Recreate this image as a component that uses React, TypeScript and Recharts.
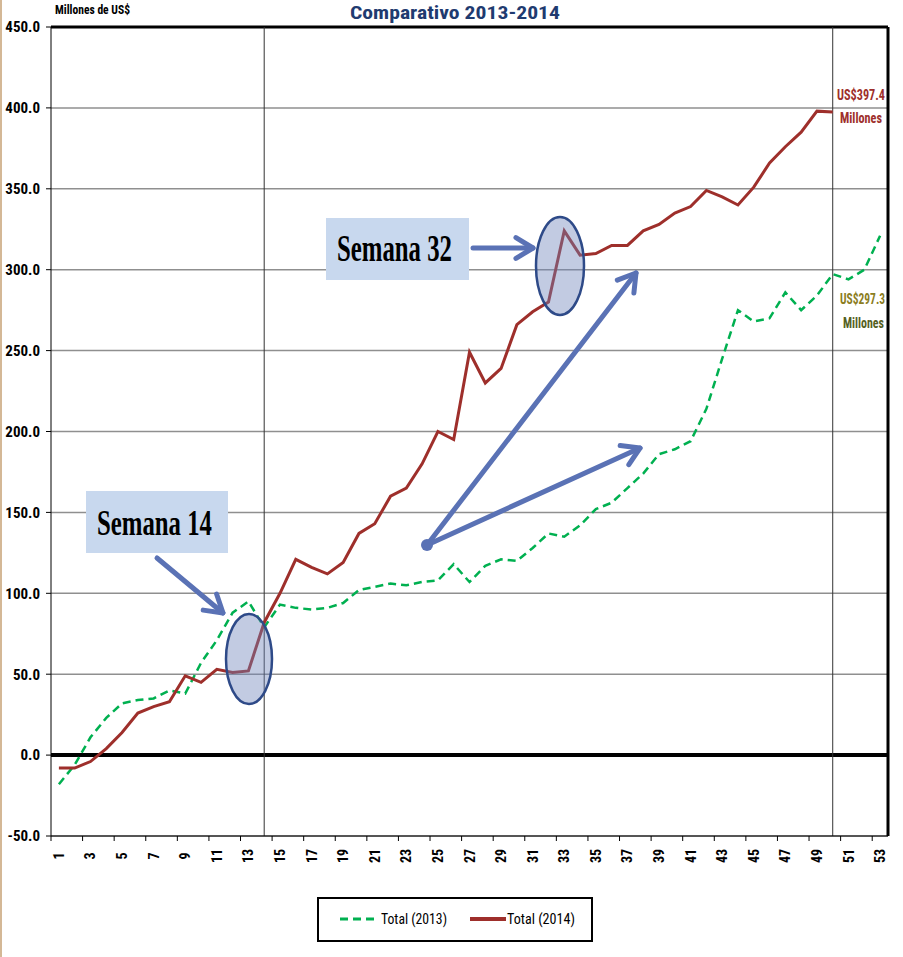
import React from "react";
import { LineChart, Line, XAxis, YAxis, CartesianGrid, ReferenceLine, Legend } from "recharts";

const weeks = [
  1, 2, 3, 4, 5, 6, 7, 8, 9, 10, 11, 12, 13, 14, 15, 16, 17, 18, 19, 20, 21, 22, 23, 24, 25, 26, 27,
  28, 29, 30, 31, 32, 33, 34, 35, 36, 37, 38, 39, 40, 41, 42, 43, 44, 45, 46, 47, 48, 49, 50, 51, 52, 53,
];

// Total (2013), millones de US$
const total2013 = [
  -18, -6, 11, 23, 32, 34, 35, 40, 38, 57,
  71, 88, 95, 79, 93, 91, 90, 91, 94, 102,
  104, 106, 105, 107, 108, 118, 107, 117, 121, 120,
  128, 137, 135, 142, 152, 156, 165, 174, 186, 189,
  194, 214, 245, 275, 268, 270, 286, 275, 284, 297.3,
  294, 300, 321,
];

// Total (2014), only up to week 50
const total2014 = [
  -8, -8, -4, 4, 14, 26, 30, 33, 49, 45,
  53, 51, 52, 82, 100, 121, 116, 112, 119, 137,
  143, 160, 165, 180, 200, 195, 249, 230, 239, 266,
  274, 280, 324, 309, 310, 315, 315, 324, 328, 335,
  339, 349, 345, 340, 351, 366, 376, 385, 398, 397.4,
];

const yTicks = [-50, 0, 50, 100, 150, 200, 250, 300, 350, 400, 450];

const RED = "#9e2f2b";
const GREEN = "#00b050";
const ARROW = "#5a72b5";
const NARROW = "'Liberation Sans Narrow', 'Roboto Condensed', 'DejaVu Sans Condensed', Arial, sans-serif";
const SERIF = "'Liberation Serif', 'Times New Roman', serif";

const BAND = 837 / 53;

const data = weeks.map((w, i) => ({
  week: w,
  t2013: total2013[i],
  t2014: i < total2014.length ? total2014[i] : null,
}));

function WeekTick(props: any) {
  const { x, y, payload } = props;
  const w = payload.value;
  if (w % 2 === 0) return <g />;
  const cy = y + 12;
  return (
    <g>
      <line x1={x - BAND / 2} x2={x - BAND / 2} y1={y - 8} y2={y - 3} stroke="#000" />
      <text
        x={x}
        y={cy}
        transform={`rotate(-90, ${x}, ${cy})`}
        textAnchor="middle"
        dominantBaseline="central"
        fontFamily={NARROW}
        fontWeight="bold"
        fontSize={14}
        fill="#000"
      >
        {w}
      </text>
    </g>
  );
}

function LegendBox() {
  return (
    <svg width={276} height={45} style={{ display: "block" }}>
      <rect x={1} y={1} width={274} height={43} fill="#fff" stroke="#000" strokeWidth={2} />
      <line x1={23} x2={62} y1={22} y2={22} stroke={GREEN} strokeWidth={3} strokeDasharray="8 5" />
      <text x={64} y={27} fontFamily={NARROW} fontSize={15} fill="#000" textLength={66} lengthAdjust="spacingAndGlyphs">Total (2013)</text>
      <line x1={153} x2={189} y1={22} y2={22} stroke={RED} strokeWidth={4} />
      <text x={190} y={27} fontFamily={NARROW} fontSize={15} fill="#000" textLength={68} lengthAdjust="spacingAndGlyphs">Total (2014)</text>
    </svg>
  );
}

function Arrow({ x1, y1, x2, y2, w = 5, head = 20 }: any) {
  const a = Math.atan2(y2 - y1, x2 - x1);
  const s = 0.55;
  const ax = x2 - head * Math.cos(a - s);
  const ay = y2 - head * Math.sin(a - s);
  const bx = x2 - head * Math.cos(a + s);
  const by = y2 - head * Math.sin(a + s);
  return (
    <g stroke={ARROW} strokeWidth={w} strokeLinecap="round" strokeLinejoin="round" fill="none">
      <line x1={x1} y1={y1} x2={x2} y2={y2} />
      <polyline points={`${ax},${ay} ${x2},${y2} ${bx},${by}`} />
    </g>
  );
}

export default function App() {
  return (
    <div
      style={{
        position: "absolute",
        top: 0,
        left: 0,
        width: 903,
        height: 957,
        background: "#fff",
        borderLeft: "2px solid #d4b896",
        boxSizing: "border-box",
      }}
    >
      <div style={{ position: "absolute", top: 0, left: -2 }}>
        <LineChart width={903} height={957} data={data} margin={{ top: 27, right: 15, bottom: 81, left: 0 }}>
          <CartesianGrid vertical={false} stroke="#8f8f8f" strokeWidth={1.5} />
          <XAxis
            dataKey="week"
            scale="band"
            interval={0}
            tick={<WeekTick />}
            tickLine={false}
            axisLine={{ stroke: "#000", strokeWidth: 1 }}
            height={40}
          />
          <YAxis
            domain={[-50, 450]}
            ticks={yTicks}
            width={51}
            tickSize={5}
            tickMargin={6}
            tickLine={{ stroke: "#000" }}
            axisLine={{ stroke: "#000" }}
            tickFormatter={(v: number) => v.toFixed(1)}
            tick={{ fontFamily: NARROW, fontWeight: "bold", fontSize: 15, fill: "#000" }}
          />
          <ReferenceLine y={450} stroke="#000" strokeWidth={3} />
          <ReferenceLine y={0} stroke="#000" strokeWidth={4} />
          <ReferenceLine x={14} stroke="#333" strokeWidth={1} />
          <ReferenceLine x={50} stroke="#333" strokeWidth={1} />
          <ReferenceLine x={53} position="end" stroke="#000" strokeWidth={3} />
          <Legend
            layout="horizontal"
            verticalAlign="middle"
            align="center"
            content={() => <LegendBox />}
            wrapperStyle={{ top: 897, left: 317, width: 276, height: 45 }}
          />
          <Line
            type="linear"
            dataKey="t2013"
            name="Total (2013)"
            stroke={GREEN}
            strokeWidth={2.5}
            strokeDasharray="8 5"
            dot={false}
            isAnimationActive={false}
          />
          <Line
            type="linear"
            dataKey="t2014"
            name="Total (2014)"
            stroke={RED}
            strokeWidth={3}
            dot={false}
            isAnimationActive={false}
          />
        </LineChart>
      </div>
      <svg
        width={903}
        height={957}
        style={{ position: "absolute", top: 0, left: -2, pointerEvents: "none" }}
      >
        <text x={455} y={19} textAnchor="middle" fontFamily={NARROW} fontWeight="bold" fontSize={19} fill="#1f3b70" textLength={210} lengthAdjust="spacingAndGlyphs">
          Comparativo 2013-2014
        </text>
        <text x={55} y={14} fontFamily={NARROW} fontWeight="bold" fontSize={12} fill="#000" textLength={75} lengthAdjust="spacingAndGlyphs">
          Millones de US$
        </text>

        <text x={837} y={100} fontFamily={NARROW} fontWeight="bold" fontSize={15} fill={RED} textLength={48} lengthAdjust="spacingAndGlyphs">US$397.4</text>
        <text x={840} y={123} fontFamily={NARROW} fontWeight="bold" fontSize={15} fill={RED} textLength={42} lengthAdjust="spacingAndGlyphs">Millones</text>
        <text x={840} y={304} fontFamily={NARROW} fontWeight="bold" fontSize={15} fill="#8b7d22" textLength={45} lengthAdjust="spacingAndGlyphs">US$297.3</text>
        <text x={843} y={328} fontFamily={NARROW} fontWeight="bold" fontSize={15} fill="#55601e" textLength={41} lengthAdjust="spacingAndGlyphs">Millones</text>

        <rect x={86} y={491} width={142} height={62} fill="#c8d8ee" />
        <text x={97} y={535} fontFamily={SERIF} fontWeight="bold" fontSize={36} fill="#000" textLength={115} lengthAdjust="spacingAndGlyphs">Semana 14</text>
        <Arrow x1={157} y1={558} x2={223} y2={613} />
        <ellipse cx={249} cy={659} rx={23} ry={45} fill="rgba(110,130,185,0.42)" stroke="#2e4a88" strokeWidth={2.5} />

        <rect x={326} y={218} width={143} height={62} fill="#c8d8ee" />
        <text x={337} y={261} fontFamily={SERIF} fontWeight="bold" fontSize={37} fill="#000" textLength={115} lengthAdjust="spacingAndGlyphs">Semana 32</text>
        <Arrow x1={473} y1={248} x2={533} y2={248} />
        <ellipse cx={560} cy={266} rx={24} ry={49} fill="rgba(110,130,185,0.42)" stroke="#2e4a88" strokeWidth={2.5} />

        <Arrow x1={427} y1={545} x2={636} y2={273} />
        <Arrow x1={427} y1={545} x2={640} y2={448} />
        <circle cx={427} cy={545} r={6} fill={ARROW} />
      </svg>
    </div>
  );
}
